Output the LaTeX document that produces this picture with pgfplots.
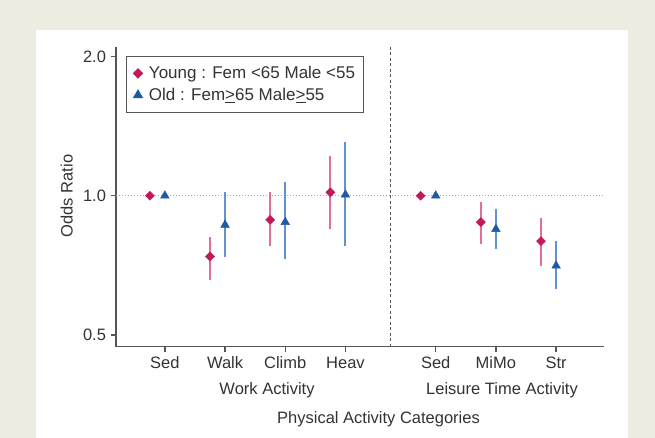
\documentclass[border=0pt]{standalone}
\usepackage{pgfplots}
\pgfplotsset{compat=1.18}
\usepackage{fontspec}
\setmainfont{Liberation Sans}
\definecolor{beige}{RGB}{239,236,225}
\definecolor{pinkm}{RGB}{196,24,92}
\definecolor{pinkb}{RGB}{224,112,152}
\definecolor{bluem}{RGB}{30,90,165}
\definecolor{blueb}{RGB}{100,145,210}
\definecolor{txt}{RGB}{51,51,51}
\definecolor{axc}{RGB}{85,85,85}
\newcommand{\lab}{\fontsize{16.5bp}{19bp}\selectfont}
\newcommand{\leg}{\fontsize{17bp}{20bp}\selectfont}
\pgfplotsset{legend image code/.code={\path[draw=none,fill=none] (0bp,0bp) -- (14bp,0bp); \draw[#1] plot coordinates {(5bp,0bp)};}}
\begin{document}
\begin{tikzpicture}[x=1bp,y=1bp]
\path[use as bounding box] (0,0) rectangle (655,438);
\fill[beige] (0,0) rectangle (655,438);
\fill[white] (36,0) rectangle (628,408);
\begin{axis}[
  at={(116bp,91.3bp)}, anchor=south west,
  width=488bp, height=300bp, scale only axis,
  ymode=log, ymin=0.4717, ymax=2.10,
  xmin=0.188, xmax=8.296,
  axis x line*=bottom, axis y line*=left,
  axis line style={axc, line width=1.6bp},
  every tick/.style={axc, line width=1.3bp},
  tick align=outside, major tick length=5.5bp,
  xtick={1,2,3,4,5.5,6.5,7.5},
  xticklabels={Sed,Walk,Climb,Heav,Sed,MiMo,Str},
  ytick={0.5,1,2}, yticklabels={0.5,1.0,2.0},
  minor ytick={},
  log ticks with fixed point,
  tick label style={font=\lab, text=txt},
  yticklabel style={xshift=-1bp},
  xticklabel style={yshift=-1bp},
  legend style={at={(axis description cs:0.0205,0.969)}, anchor=north west,
    draw=axc, line width=1bp, fill=white, font=\leg, text=txt,
    inner xsep=6.5bp, inner ysep=8bp, row sep=4bp},
  legend cell align=left,
]
\addplot[gray!70, line width=1bp, dash pattern=on 1bp off 2bp, forget plot] coordinates {(0.188,1) (8.296,1)};
\addplot[axc, line width=1.1bp, dash pattern=on 3bp off 2.5bp, forget plot] coordinates {(4.75,0.4717) (4.75,2.10)};
\addplot[pinkb, line width=2bp, unbounded coords=jump, forget plot] coordinates {
 (1.75,0.658) (1.75,0.816) (1.75,nan)
 (2.75,0.777) (2.75,1.017) (2.75,nan)
 (3.75,0.848) (3.75,1.216) (3.75,nan)
 (6.25,0.787) (6.25,0.967) (6.25,nan)
 (7.25,0.706) (7.25,0.895)};
\addplot[blueb, line width=2bp, unbounded coords=jump, forget plot] coordinates {
 (2,0.739) (2,1.017) (2,nan)
 (3,0.729) (3,1.069) (3,nan)
 (4,0.780) (4,1.304) (4,nan)
 (6.5,0.767) (6.5,0.936) (6.5,nan)
 (7.5,0.629) (7.5,0.799)};
\addplot[only marks, mark=square*, mark size=3.2bp, mark options={rotate=45}, draw=pinkm, fill=pinkm] coordinates {
 (0.75,1.0) (1.75,0.739) (2.75,0.887) (3.75,1.017) (5.25,1.0) (6.25,0.877) (7.25,0.798)};
\addlegendentry{Young : Fem <65 Male <55}
\addplot[only marks, mark=triangle*, mark size=5bp, draw=bluem, fill=bluem] coordinates {
 (1,1.0) (2,0.865) (3,0.877) (4,1.005) (5.5,1.0) (6.5,0.847) (7.5,0.706)};
\addlegendentry{Old : Fem\underline{>}65 Male\underline{>}55}
\end{axis}
\node[font=\lab, text=txt] at (267,48) {Work Activity};
\node[font=\lab, text=txt] at (502,48) {Leisure Time Activity};
\node[font=\lab, text=txt] at (378.5,19) {Physical Activity Categories};
\node[font=\lab, text=txt, rotate=90] at (66.7,242) {Odds Ratio};
\end{tikzpicture}
\end{document}
